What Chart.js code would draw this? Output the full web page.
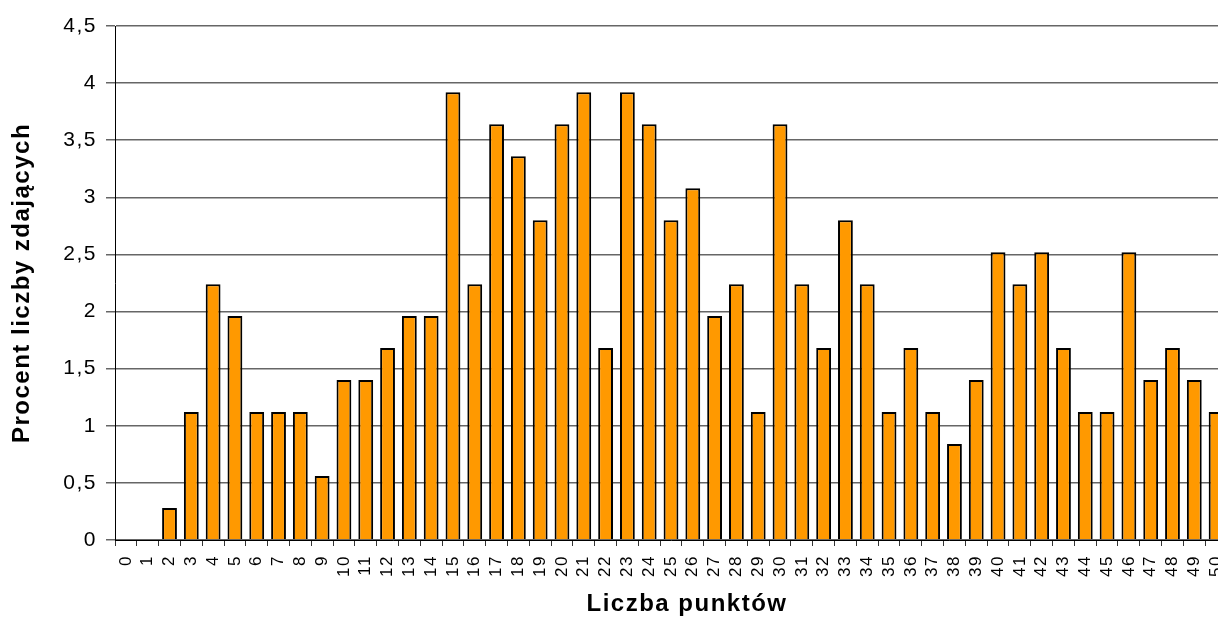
<!DOCTYPE html>
<html lang="pl">
<head>
<meta charset="utf-8">
<title>Liczba punktów – procent liczby zdających</title>
<script src="https://cdn.jsdelivr.net/npm/chart.js@4.4.1/dist/chart.umd.min.js"></script>
<style>
  html, body { margin: 0; padding: 0; background: #ffffff; overflow: hidden; }
  #wrap { width: 1228px; height: 619px; }
  canvas { display: block; }
</style>
</head>
<body>
<div id="wrap"><canvas id="chart" width="1228" height="619"></canvas></div>
<script>
// Punkty (0–50) i procent zdających, którzy je uzyskali
const categories = ['0','1','2','3','4','5','6','7','8','9','10','11','12','13','14','15','16','17','18','19','20',
  '21','22','23','24','25','26','27','28','29','30','31','32','33','34','35','36','37','38','39','40',
  '41','42','43','44','45','46','47','48','49','50'];

const percentValues = [0, 0, 0.28, 1.12, 2.24, 1.96, 1.12, 1.12, 1.12, 0.56, 1.40, 1.40, 1.68, 1.96, 1.96,
  3.92, 2.24, 3.64, 3.36, 2.80, 3.64, 3.92, 1.68, 3.92, 3.64, 2.80, 3.08, 1.96, 2.24, 1.12, 3.64,
  2.24, 1.68, 2.80, 2.24, 1.12, 1.68, 1.12, 0.84, 1.40, 2.52, 2.24, 2.52, 1.68, 1.12, 1.12, 2.52,
  1.40, 1.68, 1.40, 1.12];

const yTickValues = [0, 0.5, 1, 1.5, 2, 2.5, 3, 3.5, 4, 4.5];
const yTickLabels = ['0', '0,5', '1', '1,5', '2', '2,5', '3', '3,5', '4', '4,5'];

const xTitle = 'Liczba punktów';
const yTitle = 'Procent liczby zdających';

const FONT = "'Liberation Sans', Arial, Helvetica, sans-serif";
const LETTER_SPACING = '1.5px';

// Slightly widened letter spacing for all chart text
// (re-applied because resizing the canvas resets the context state)
const textSpacing = {
  id: 'textSpacing',
  beforeUpdate(chart) { chart.ctx.letterSpacing = LETTER_SPACING; },
  beforeDraw(chart) {
    chart.ctx.letterSpacing = LETTER_SPACING;
    // the axis title sits a little right of the plot centre
    const x = chart.scales.x;
    if (!x._titleShifted) {
      const drawTitle = x.drawTitle;
      x.drawTitle = function () {
        this.ctx.save();
        this.ctx.translate(16, 0);
        drawTitle.call(this);
        this.ctx.restore();
      };
      x._titleShifted = true;
    }
  }
};

new Chart(document.getElementById('chart'), {
  type: 'bar',
  data: {
    labels: categories,
    datasets: [{
      data: percentValues,
      backgroundColor: '#FF9900',
      borderColor: '#000000',
      borderWidth: (ctx) => (ctx.raw === 0 ? 0 : 2),
      barPercentage: 0.68,
      categoryPercentage: 1.0
    }]
  },
  options: {
    responsive: false,
    animation: false,
    devicePixelRatio: 1,
    layout: { padding: { left: 0, top: 26, right: 1, bottom: 0 } },
    plugins: {
      legend: { display: false },
      tooltip: { enabled: false }
    },
    scales: {
      x: {
        offset: true,
        grid: {
          offset: true,
          drawOnChartArea: false,
          drawTicks: true,
          tickLength: 6,
          color: '#333333',
          lineWidth: 1
        },
        border: { display: true, color: '#000000', width: 1 },
        ticks: {
          autoSkip: false,
          maxRotation: 90,
          minRotation: 90,
          padding: 9,
          color: '#000000',
          font: { family: FONT, size: 17 }
        },
        title: {
          display: true,
          text: xTitle,
          color: '#000000',
          padding: { top: 0, bottom: 0 },
          font: { family: FONT, size: 24, weight: 'bold' }
        },
        afterFit(scale) {
          scale.height = 79;
          // the plot runs right up to the canvas edge; rotated labels need no side room
          scale.paddingLeft = 0;
          scale.paddingRight = 0;
        }
      },
      y: {
        min: 0,
        max: 4.5,
        afterBuildTicks(scale) { scale.ticks = yTickValues.map(v => ({ value: v })); },
        grid: {
          drawTicks: true,
          tickLength: 9,
          color: '#666666',
          lineWidth: 1.5
        },
        border: { display: true, color: '#000000', width: 1 },
        ticks: {
          padding: 9,
          color: '#000000',
          font: { family: FONT, size: 21 },
          callback(value) {
            const i = yTickValues.indexOf(value);
            return i >= 0 ? yTickLabels[i] : '';
          }
        },
        title: {
          display: true,
          text: yTitle,
          color: '#000000',
          padding: { top: 8, bottom: 8 },
          font: { family: FONT, size: 24, weight: 'bold' }
        },
        afterFit(scale) { scale.width = 115; }
      }
    }
  },
  plugins: [textSpacing]
});
</script>
</body>
</html>
